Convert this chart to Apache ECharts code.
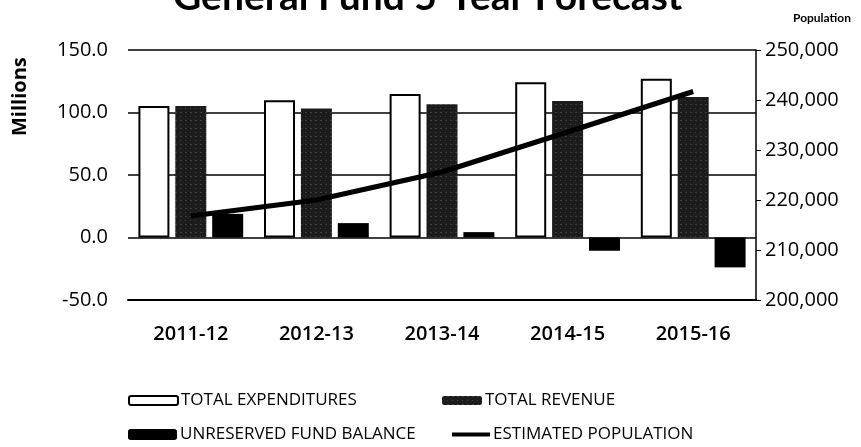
<!DOCTYPE html>
<html>
<head>
<meta charset="utf-8">
<script src="https://cdn.jsdelivr.net/npm/echarts@6/dist/echarts.min.js"></script>
<style>
  html, body { margin: 0; padding: 0; background: #fff; }
  #main { width: 861px; height: 447px; }
</style>
</head>
<body>
<div id="main"></div>
<script>
var years = ['2011-12', '2012-13', '2013-14', '2014-15', '2015-16'];
var expenditures = [105.2, 109.8, 114.8, 124.2, 127.1];   // millions
var revenue = [105.2, 103.2, 106.6, 109.3, 112.4];
var fundBalance = [18.9, 11.5, 4.3, -10.6, -23.9];
var population = [216800, 220000, 225600, 233600, 241700];

var font = 'Open Sans';

var chart = echarts.init(document.getElementById('main'));

// one legend per item, so each can sit where the picture has it
function legendFor(item, left, top, w, h) {
	return {
		data : [ item ],
		left : left,
		top : top,
		itemWidth : w,
		itemHeight : h,
		itemGap : 0,
		selectedMode : false,
		textStyle : { fontFamily : font, fontSize : 17, color : '#000', padding : [0, 0, 0, -2] }
	};
}

var option = {
	backgroundColor : '#fff',
	animation : false,
	title : {
		text : 'General Fund 5-Year Forecast',
		left : 168,
		top : -27,
		textStyle : { fontFamily : 'Lato', fontWeight : 'bold', fontSize : 39, color : '#000' }
	},
	graphic : [ {
		type : 'text',
		left : 793,
		top : 12,
		style : { text : 'Population', font : 'bold 12px Lato', fill : '#000' }
	}, {
		type : 'text',
		x : 10,
		y : 136,
		rotation : Math.PI / 2,
		style : { text : 'Millions', font : 'bold 20px "Open Sans"', fill : '#000' }
	} ],
	legend : [
		legendFor('TOTAL EXPENDITURES', 123, 387, 49, 9),
		legendFor('TOTAL REVENUE', 437, 387, 40, 9),
		legendFor('UNRESERVED FUND BALANCE', 123, 421, 49, 11),
		legendFor({ name : 'ESTIMATED POPULATION', icon : 'rect' }, 447, 421, 38, 4)
	],
	grid : { left : 128, right : 105, top : 50, bottom : 147 },
	xAxis : {
		type : 'category',
		data : years,
		axisLine : { onZero : false, lineStyle : { color : '#000', width : 2 } },
		axisTick : { show : false },
		axisLabel : { margin : 24, fontFamily : font, fontSize : 20, fontWeight : 600, color : '#000' }
	},
	yAxis : [ {
		type : 'value',
		min : -50,
		max : 150,
		interval : 50,
		axisLine : { show : false },
		axisTick : { show : false },
		splitLine : { lineStyle : { color : '#000', width : 1.5 } },
		axisLabel : {
			margin : 20,
			fontFamily : font,
			fontSize : 20,
			color : '#000',
			formatter : function(v) { return v.toFixed(1); }
		}
	}, {
		type : 'value',
		min : 200000,
		max : 250000,
		interval : 10000,
		axisLine : { show : true, lineStyle : { color : '#000', width : 1.5 } },
		axisTick : { show : true, length : 5, lineStyle : { color : '#000' } },
		splitLine : { show : false },
		axisLabel : {
			margin : 9,
			fontFamily : font,
			fontSize : 20,
			color : '#000',
			formatter : function(v) { return v.toLocaleString('en-US'); }
		}
	} ],
	series : [ {
		name : 'TOTAL EXPENDITURES',
		type : 'bar',
		data : expenditures,
		barWidth : 31,
		barGap : '19%',
		itemStyle : { color : '#fff', borderColor : '#000', borderWidth : 2 }
	}, {
		name : 'TOTAL REVENUE',
		type : 'bar',
		data : revenue,
		barWidth : 31,
		barGap : '19%',
		itemStyle : {
			color : '#1c1c1c',
			decal : {
				symbol : 'rect',
				symbolSize : 0.5,
				color : 'rgba(255,255,255,0.6)',
				dashArrayX : [ [1, 4], [2, 3] ],
				dashArrayY : [ 1, 3 ],
				rotation : 0
			}
		}
	}, {
		name : 'UNRESERVED FUND BALANCE',
		type : 'bar',
		data : fundBalance,
		barWidth : 31,
		barGap : '19%',
		itemStyle : { color : '#000' }
	}, {
		name : 'ESTIMATED POPULATION',
		type : 'line',
		yAxisIndex : 1,
		data : population,
		symbol : 'none',
		z : 5,
		lineStyle : { color : '#000', width : 5 },
		itemStyle : { color : '#000' }
	} ]
};

chart.setOption(option);
</script>
</body>
</html>
